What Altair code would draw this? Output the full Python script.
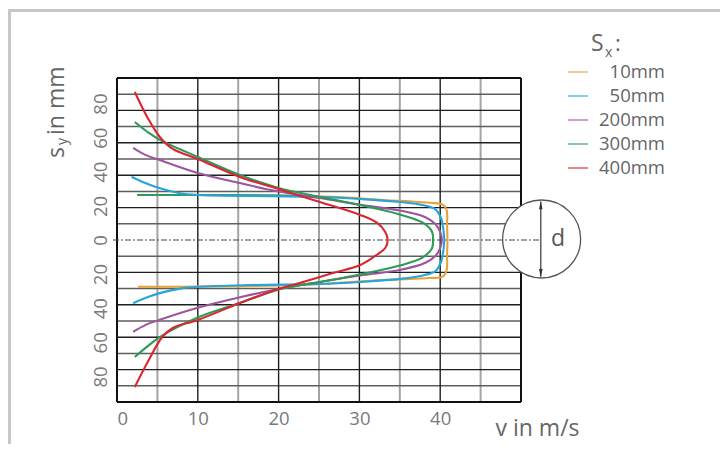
import altair as alt
import pandas as pd

FONT = "Open Sans"
TEXT = "#666666"

series_names = ["10mm", "50mm", "200mm", "300mm", "400mm"]
series_colors = ["#E8A13A", "#27A4DA", "#9E559F", "#2E9A58", "#D9262F"]

# velocity profiles v (m/s) against s_y (mm), traced from the top-left end round to the bottom-left end
v_10 = [2.5, 10.3, 20.2, 26.7, 33.0, 38.7, 40.3, 40.8, 40.85, 40.9, 40.85, 40.8, 40.3, 38.7, 32.9, 22.6, 10.3, 2.6]
s_10 = [26.4, 26.4, 26.1, 25.3, 23.5, 21.8, 20.8, 17.6, 8.8, 0.0, -8.8, -17.6, -21.5, -22.3, -23.5, -26.4, -27.3, -27.4]

v_50 = [1.8, 3.5, 5.3, 7.8, 10.0, 16.5, 25.1, 30.1, 35.0, 38.1, 39.4, 40.1, 40.4, 40.5,
        40.4, 40.1, 39.4, 38.1, 35.0, 30.1, 25.1, 16.5, 10.0, 7.8, 5.2, 3.5, 2.0]
s_50 = [37.1, 33.4, 30.3, 27.4, 26.4, 25.9, 25.2, 24.0, 22.3, 20.2, 18.0, 12.9, 5.9, 0.0,
        -5.9, -12.9, -18.3, -20.5, -22.8, -24.6, -25.8, -26.4, -27.4, -28.5, -31.3, -34.0, -37.1]

v_200 = [2.0, 3.5, 5.3, 10.0, 15.2, 20.0, 25.1, 30.1, 35.0, 38.1, 39.4, 40.0, 40.2,
         40.0, 39.4, 38.1, 35.0, 30.1, 25.1, 20.0, 15.2, 10.0, 5.2, 3.5, 2.0]
s_200 = [54.0, 49.9, 46.9, 39.3, 33.4, 28.4, 24.6, 20.6, 17.3, 13.5, 9.4, 4.7, 0.0,
         -4.7, -9.4, -13.5, -17.6, -20.8, -24.6, -28.7, -33.6, -39.7, -46.9, -49.9, -53.8]

v_300 = [2.2, 3.8, 5.3, 10.0, 15.2, 20.0, 25.1, 30.1, 35.0, 37.9, 39.0, 39.1,
         39.0, 37.9, 35.0, 30.1, 25.1, 20.0, 15.2, 10.0, 5.3, 3.8, 2.2]
s_300 = [69.2, 63.3, 58.7, 48.7, 38.1, 30.5, 25.3, 20.5, 15.0, 10.0, 4.7, 0.0,
         -4.7, -10.0, -15.0, -20.2, -24.6, -29.0, -37.0, -45.5, -56.9, -62.2, -68.6]

v_400 = [2.2, 3.8, 5.3, 6.9, 10.0, 15.2, 20.0, 25.1, 30.1, 32.2, 33.2, 33.5,
         33.2, 32.2, 30.1, 26.7, 22.6, 20.0, 15.2, 10.0, 6.9, 5.6, 3.8, 2.2]
s_400 = [86.8, 71.6, 60.4, 53.4, 47.5, 37.0, 29.9, 22.3, 14.7, 10.0, 4.7, 0.0,
         -4.7, -8.5, -14.7, -19.4, -25.2, -28.7, -37.0, -46.9, -51.6, -56.9, -71.6, -86.2]

# upper straight edge of the 10 mm profile, printed in green in the original
v_flat_green = [2.5, 10.3, 20.2, 25.0]
s_flat_green = [26.4, 26.4, 26.1, 25.5]

x_ticks = [0, 10, 20, 30, 40]
y_ticks = [-80, -60, -40, -20, 0, 20, 40, 60, 80]
x_grid_dark = [10, 20, 30, 40]
x_grid_light = [5, 15, 25, 35, 45]
y_grid_dark = [-76, -57, -38, -19, 19, 38, 57, 76]
y_grid_light = [-85.5, -66.5, -47.5, -28.5, -9.5, 9.5, 28.5, 47.5, 66.5, 85.5]
x_frame = [0, 50]
y_frame = [-95, 95]

W, H = 404, 324
PAD_L, PAD_T = 109, 70
TOTAL_W, TOTAL_H = 712, 436

rows = []
for name, vs, ss in [("10mm", v_10, s_10), ("50mm", v_50, s_50), ("200mm", v_200, s_200),
                     ("300mm", v_300, s_300), ("400mm", v_400, s_400)]:
    for i, (v, s) in enumerate(zip(vs, ss)):
        rows.append({"series": name, "v": v, "s": s, "i": i})
df = pd.DataFrame(rows)

xs = alt.Scale(domain=[0, 50], nice=False, zero=False)
ys = alt.Scale(domain=[-95, 95], nice=False, zero=False)
one = pd.DataFrame({"k": [0]})

x_axis = alt.Axis(values=x_ticks, grid=False, domain=False, ticks=False, labelFont=FONT,
                  labelFontSize=18.5, labelColor="#7a7a7a", labelPadding=7,
                  titleFont=FONT, titleFontSize=23, titleFontWeight="normal", titleColor=TEXT,
                  titleX=378, titleY=26, titleAlign="left", titleBaseline="middle")
y_axis = alt.Axis(values=y_ticks, grid=False, domain=False, ticks=False, labelFont=FONT,
                  labelFontSize=18.5, labelColor="#7a7a7a", labelAngle=270, labelAlign="center",
                  labelBaseline="middle", labelPadding=17, labelExpr="abs(datum.value)")

# the first layers carry the axes; later layers leave the axis unset so they merge into it
grid_v_light = alt.Chart(pd.DataFrame({"v": x_grid_light})).mark_rule(color="#a3a3a3", strokeWidth=2).encode(
    x=alt.X("v:Q", scale=xs, axis=x_axis, title="v in m/s"))
grid_h_light = alt.Chart(pd.DataFrame({"s": y_grid_light})).mark_rule(color="#5e5e5e", strokeWidth=1.5).encode(
    y=alt.Y("s:Q", scale=ys, axis=y_axis, title=""))


def vrules(vals, color, width):
    return alt.Chart(pd.DataFrame({"v": vals})).mark_rule(color=color, strokeWidth=width).encode(
        x=alt.X("v:Q", scale=xs))


def hrules(vals, color, width):
    return alt.Chart(pd.DataFrame({"s": vals})).mark_rule(color=color, strokeWidth=width).encode(
        y=alt.Y("s:Q", scale=ys))


grid_layers = [
    grid_v_light,
    grid_h_light,
    vrules(x_grid_dark, "#1e1e1e", 1.4),
    hrules(y_grid_dark, "#1e1e1e", 1.4),
    vrules(x_frame, "#111111", 2),
    hrules(y_frame, "#111111", 2),
]

circle = alt.Chart(one).mark_point(shape="circle", size=6084, filled=True, fill="white",
                                   stroke="#555555", strokeWidth=1.3, opacity=1).encode(
    x=alt.XDatum(52.55), y=alt.YDatum(0.6))

center_line = alt.Chart(one).mark_rule(color="#444444", strokeWidth=1.1, strokeDash=[6, 2, 2, 2]).encode(
    x=alt.XDatum(-0.5), x2=alt.X2Datum(52.4), y=alt.YDatum(0))

arrow_line = alt.Chart(one).mark_rule(color="#333333", strokeWidth=1.2).encode(
    x=alt.XDatum(52.45), y=alt.YDatum(22.6), y2=alt.Y2Datum(-21.6))
arrow_top = alt.Chart(one).mark_point(shape="M0,-1L0.45,1L-0.45,1Z", size=64, filled=True,
                                      color="#333333", opacity=1).encode(
    x=alt.XDatum(52.45), y=alt.YDatum(20.4))
arrow_bot = alt.Chart(one).mark_point(shape="M0,1L0.45,-1L-0.45,-1Z", size=64, filled=True,
                                      color="#333333", opacity=1).encode(
    x=alt.XDatum(52.45), y=alt.YDatum(-19.4))
d_label = alt.Chart(one).mark_text(text="d", font=FONT, fontSize=23, color="#555555",
                                   align="left", baseline="middle").encode(
    x=alt.XDatum(53.7), y=alt.YDatum(0.6))

color_enc = alt.Color(
    "series:N",
    scale=alt.Scale(domain=series_names, range=series_colors),
    legend=alt.Legend(orient="none", legendX=450, legendY=-17, title=None, symbolType="stroke",
                      symbolSize=400, symbolStrokeWidth=2, symbolOpacity=0.55,
                      labelFont=FONT, labelFontSize=18.5, labelColor=TEXT, labelAlign="right",
                      labelOffset=76, rowPadding=3, padding=0),
)

base = alt.Chart(df).mark_line(interpolate="catmull-rom", strokeWidth=2.1).encode(
    x=alt.X("v:Q", scale=xs),
    y=alt.Y("s:Q", scale=ys),
    color=color_enc,
    order="i:Q",
)
orange_layer = base.transform_filter(alt.datum.series == "10mm")
rest_layer = base.transform_filter(alt.datum.series != "10mm")

green_flat = alt.Chart(pd.DataFrame({"v": v_flat_green, "s": s_flat_green})).mark_line(
    interpolate="catmull-rom", strokeWidth=2.1, color=series_colors[3]).encode(
    x=alt.X("v:Q", scale=xs), y=alt.Y("s:Q", scale=ys))


def label(text, x, y, size, angle=0, color=TEXT):
    kw = dict(text=text, font=FONT, fontSize=size, color=color, align="left", baseline="alphabetic")
    if angle:
        kw["angle"] = angle
    return alt.Chart(one).mark_text(**kw).encode(x=alt.value(x), y=alt.value(y))


annotations = [
    label("S", 474, -27, 23),
    label("x", 488, -21, 14),
    label(":", 498, -27, 22),
    label("s", -53, 80, 23, 270),
    label("y", -50, 67, 14, 270),
    label("in mm", -53, 57, 23, 270),
]

frame_top = alt.Chart(one).mark_rule(color="#c4c8cd", strokeWidth=3).encode(
    x=alt.value(-PAD_L), x2=alt.value(TOTAL_W - PAD_L), y=alt.value(-67.5))
frame_left = alt.Chart(one).mark_rule(color="#c4c8cd", strokeWidth=3).encode(
    x=alt.value(-107.5), y=alt.value(-67.5), y2=alt.value(TOTAL_H - PAD_T))

chart = alt.layer(
    *grid_layers,
    frame_top, frame_left,
    circle, center_line, arrow_line, arrow_top, arrow_bot, d_label,
    orange_layer, green_flat, rest_layer,
    *annotations,
).properties(
    width=W, height=H,
    autosize=alt.AutoSizeParams(type="none"),
    padding={"left": PAD_L, "top": PAD_T, "right": TOTAL_W - PAD_L - W, "bottom": TOTAL_H - PAD_T - H},
    background="white",
).configure_view(stroke=None)

chart.save("out.html", embed_options={"renderer": "svg", "actions": False})
